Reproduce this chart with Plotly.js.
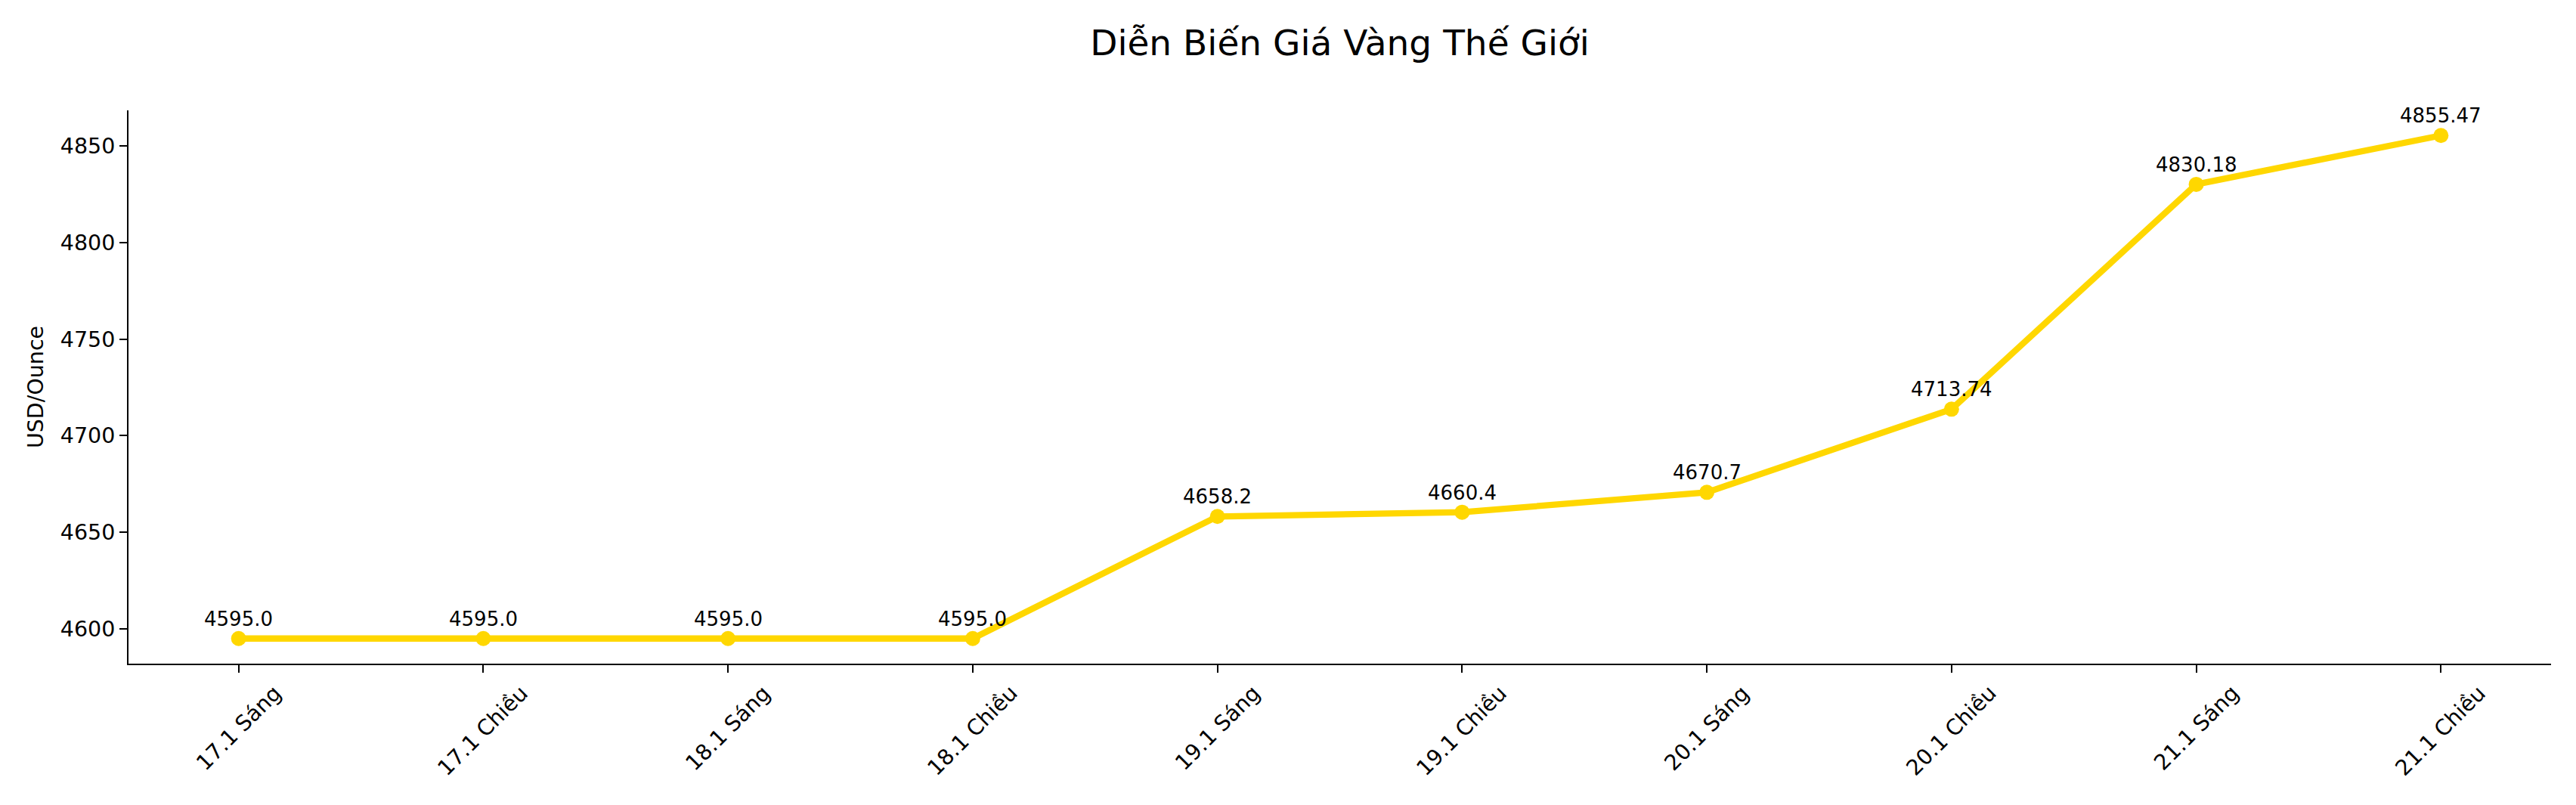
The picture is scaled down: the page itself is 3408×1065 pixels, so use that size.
<!DOCTYPE html>
<html>
<head>
<meta charset="utf-8">
<script src="https://cdn.plot.ly/plotly-3.0.1.min.js"></script>
<style>html,body{margin:0;padding:0;background:#fff;}#chart{width:3408px;height:1065px;}</style>
</head>
<body>
<div id="chart"></div>
<script>
const categories = ["17.1 Sáng","17.1 Chiều","18.1 Sáng","18.1 Chiều","19.1 Sáng","19.1 Chiều","20.1 Sáng","20.1 Chiều","21.1 Sáng","21.1 Chiều"];
const prices = [4595.0, 4595.0, 4595.0, 4595.0, 4658.2, 4660.4, 4670.7, 4713.74, 4830.18, 4855.47];
const yTicks = [4600, 4650, 4700, 4750, 4800, 4850];
const chartTitle = "Diễn Biến Giá Vàng Thế Giới";
const yTitle = "USD/Ounce";

const FONT = "DejaVu Sans";
const fmt = v => Number.isInteger(v) ? v.toFixed(1) : String(v);

const idx = categories.map((c, i) => i);

const trace = {
  type: "scatter",
  mode: "lines+markers",
  x: idx,
  y: prices,
  line: {color: "#FFD700", width: 8.3},
  marker: {color: "#FFD700", size: 20},
  hoverinfo: "x+y"
};

const annotations = [];
prices.forEach((v, i) => {
  annotations.push({
    x: i, y: v, xref: "x", yref: "y",
    text: fmt(v), showarrow: false,
    xanchor: "center", yanchor: "bottom", yshift: 9,
    font: {family: FONT, size: 26, color: "#000"}
  });
});
categories.forEach((c, i) => {
  annotations.push({
    x: i, y: 0, xref: "x", yref: "paper",
    text: c, showarrow: false, textangle: -45,
    xanchor: "center", yanchor: "top", yshift: -20,
    font: {family: FONT, size: 28.5, color: "#000"}
  });
});

const ymin = Math.min(...prices), ymax = Math.max(...prices);
const pad = (ymax - ymin) * 0.05;

const layout = {
  width: 3408, height: 1065,
  paper_bgcolor: "#fff", plot_bgcolor: "#fff",
  margin: {l: 170, r: 33, t: 146, b: 187},
  showlegend: false,
  title: {
    text: chartTitle,
    font: {family: FONT, size: 47, color: "#000"},
    x: 0.5, xref: "paper", xanchor: "center",
    y: 0.9469, yref: "container", yanchor: "middle"
  },
  xaxis: {
    range: [-0.45, categories.length - 1 + 0.45],
    tickvals: idx,
    showticklabels: false,
    ticks: "outside", ticklen: 10, tickwidth: 2, tickcolor: "#000",
    showline: true, linecolor: "#000", linewidth: 2,
    showgrid: false, zeroline: false
  },
  yaxis: {
    range: [ymin - pad, ymax + pad],
    tickvals: yTicks,
    ticktext: yTicks.map(String),
    ticks: "outside", ticklen: 10, tickwidth: 2, tickcolor: "#000",
    tickfont: {family: FONT, size: 28.5, color: "#000"},
    showline: true, linecolor: "#000", linewidth: 2,
    showgrid: false, zeroline: false,
    title: {text: yTitle, font: {family: FONT, size: 28.5, color: "#000"}, standoff: 14}
  },
  annotations: annotations
};

Plotly.newPlot("chart", [trace], layout, {displayModeBar: false, staticPlot: true});
</script>
</body>
</html>
